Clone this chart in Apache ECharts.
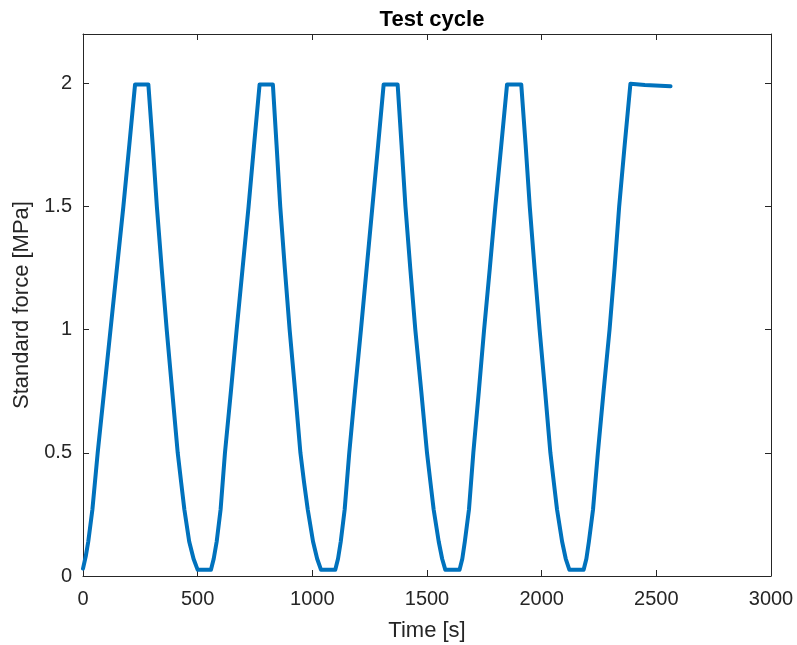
<!DOCTYPE html>
<html>
<head>
<meta charset="utf-8">
<script src="https://cdn.jsdelivr.net/npm/echarts@6/dist/echarts.min.js"></script>
<style>
  html, body { margin: 0; padding: 0; background: #fff; }
  #chart { width: 797px; height: 645px; }
</style>
</head>
<body>
<div id="chart"></div>
<script>
// Loading cycle: time stamps [s] and the measured standard force [MPa]
const timeS = [
  0, 12, 23, 41, 64, 92, 120, 148, 176, 202, 227, 285,
  304, 322, 343, 365, 389, 413, 428, 442, 463, 482, 500, 558,
  570, 583, 600, 619, 645, 670, 696, 722, 746, 770, 828,
  844, 860, 880, 901, 925, 948, 964, 980, 1003, 1021, 1038, 1100,
  1112, 1124, 1141, 1161, 1186, 1212, 1237, 1262, 1287, 1311, 1372,
  1389, 1406, 1427, 1449, 1475, 1500, 1515, 1529, 1551, 1566, 1580, 1642,
  1654, 1665, 1683, 1702, 1726, 1749, 1774, 1798, 1824, 1849, 1911,
  1930, 1948, 1969, 1991, 2015, 2038, 2053, 2067, 2089, 2105, 2121, 2183,
  2195, 2206, 2224, 2245, 2270, 2296, 2318, 2338, 2362, 2387, 2450, 2562
];
const forceMPa = [
  0.03, 0.08, 0.14, 0.27, 0.5, 0.75, 1.0, 1.25, 1.5, 1.75, 1.995, 1.995,
  1.75, 1.5, 1.25, 1.0, 0.75, 0.5, 0.38, 0.27, 0.14, 0.07, 0.025, 0.025,
  0.07, 0.14, 0.27, 0.5, 0.75, 1.0, 1.25, 1.5, 1.75, 1.995, 1.995,
  1.75, 1.5, 1.25, 1.0, 0.75, 0.5, 0.38, 0.27, 0.14, 0.07, 0.025, 0.025,
  0.07, 0.14, 0.27, 0.5, 0.75, 1.0, 1.25, 1.5, 1.75, 1.995, 1.995,
  1.75, 1.5, 1.25, 1.0, 0.75, 0.5, 0.38, 0.27, 0.14, 0.07, 0.025, 0.025,
  0.07, 0.14, 0.27, 0.5, 0.75, 1.0, 1.25, 1.5, 1.75, 1.995, 1.995,
  1.75, 1.5, 1.25, 1.0, 0.75, 0.5, 0.38, 0.27, 0.14, 0.07, 0.025, 0.025,
  0.07, 0.14, 0.27, 0.5, 0.75, 1.0, 1.25, 1.5, 1.75, 1.998, 1.993, 1.988
];

const xTicks = { min: 0, max: 3000, interval: 500 };
const yTicks = { min: 0, max: 2.2, interval: 0.5 };

const points = timeS.map((t, i) => [t, forceMPa[i]]);

const axisColor = '#262626';
const fontFamily = '"Liberation Sans", Arial, Helvetica, sans-serif';

const chart = echarts.init(document.getElementById('chart'), null, { renderer: 'canvas' });

const frameLine = { show: true, onZero: false, lineStyle: { color: axisColor, width: 1 } };
const innerTick = { show: true, inside: true, length: 6, lineStyle: { color: axisColor, width: 1 } };
const plainNumber = (v) => String(v);

chart.setOption({
  animation: false,
  backgroundColor: '#ffffff',
  title: {
    text: 'Test cycle',
    left: 427,
    top: 4,
    textAlign: 'center',
    textStyle: { fontFamily, fontSize: 22, fontWeight: 'bold', color: '#000000' }
  },
  grid: { left: 83, right: 26, top: 34, bottom: 69, containLabel: false, outerBoundsMode: 'none' },
  xAxis: [
    {
      type: 'value',
      position: 'bottom',
      min: xTicks.min, max: xTicks.max, interval: xTicks.interval,
      name: 'Time [s]',
      nameLocation: 'middle',
      nameGap: 44,
      nameTextStyle: { fontFamily, fontSize: 22, color: axisColor },
      axisLine: frameLine,
      axisTick: innerTick,
      axisLabel: { fontFamily, fontSize: 20, color: axisColor, margin: 13, formatter: plainNumber },
      splitLine: { show: false }
    },
    {
      type: 'value',
      position: 'top',
      min: xTicks.min, max: xTicks.max, interval: xTicks.interval,
      axisLine: frameLine,
      axisTick: innerTick,
      axisLabel: { show: false },
      splitLine: { show: false }
    }
  ],
  yAxis: [
    {
      type: 'value',
      position: 'left',
      min: yTicks.min, max: yTicks.max, interval: yTicks.interval,
      name: 'Standard force [MPa]',
      nameLocation: 'middle',
      nameGap: 50,
      nameTextStyle: { fontFamily, fontSize: 22, color: axisColor },
      axisLine: frameLine,
      axisTick: innerTick,
      axisLabel: { fontFamily, fontSize: 20, color: axisColor, margin: 11, showMaxLabel: false, formatter: plainNumber },
      splitLine: { show: false }
    },
    {
      type: 'value',
      position: 'right',
      min: yTicks.min, max: yTicks.max, interval: yTicks.interval,
      axisLine: frameLine,
      axisTick: innerTick,
      axisLabel: { show: false },
      splitLine: { show: false }
    }
  ],
  series: [
    {
      type: 'line',
      xAxisIndex: 0,
      yAxisIndex: 0,
      data: points,
      showSymbol: false,
      smooth: false,
      lineStyle: { color: '#0072BD', width: 4, join: 'round', cap: 'round' }
    }
  ]
});
</script>
</body>
</html>
